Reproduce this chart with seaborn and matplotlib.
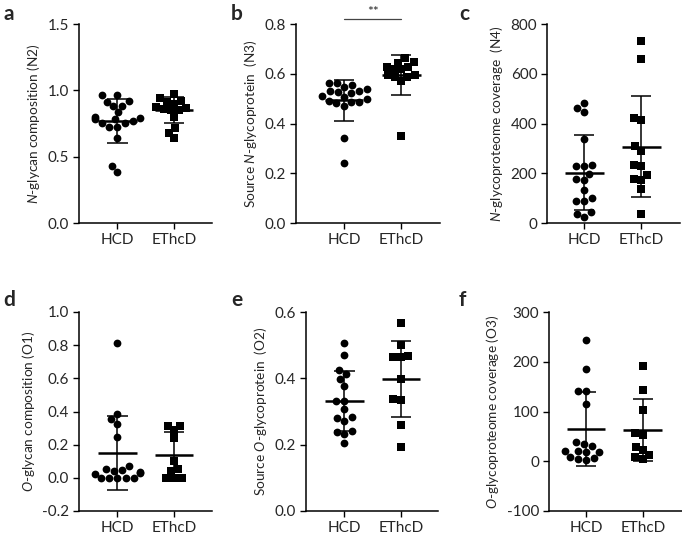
import matplotlib
matplotlib.use("Agg")
import pandas as pd
import numpy as np
import matplotlib.pyplot as plt
import seaborn as sns

# values
groups = ["HCD", "EThcD"]

a_hcd = [0.965, 0.965, 0.915, 0.92, 0.883, 0.885, 0.835, 0.798, 0.79, 0.757, 0.752,
         0.782, 0.782, 0.772, 0.727, 0.727, 0.64, 0.384, 0.426]
a_ethcd = [0.97, 0.945, 0.92, 0.915, 0.90, 0.875, 0.87, 0.86, 0.85, 0.85, 0.80, 0.715, 0.68, 0.64]
b_hcd = [0.564, 0.562, 0.555, 0.546, 0.538, 0.532, 0.532, 0.528, 0.524, 0.511, 0.508,
         0.498, 0.492, 0.488, 0.488, 0.482, 0.471, 0.341, 0.241]
b_ethcd = [0.662, 0.649, 0.645, 0.629, 0.629, 0.618, 0.618, 0.595, 0.595, 0.586, 0.586, 0.569, 0.35]
c_hcd = [484, 462, 446, 337, 234, 230, 230, 198, 177, 174, 131, 100, 90, 87, 43, 37, 24]
c_ethcd = [733, 660, 423, 415, 308, 290, 232, 231, 191, 177, 171, 136, 37]
d_hcd = [0.815, 0.385, 0.353, 0.325, 0.248, 0.07, 0.056, 0.05, 0.042, 0.036, 0.03, 0.025,
         0.0, 0.0, 0.0, 0.0, 0.0]
d_ethcd = [0.315, 0.315, 0.29, 0.24, 0.10, 0.055, 0.04, 0.0, 0.0, 0.0]
e_hcd = [0.508, 0.471, 0.426, 0.413, 0.397, 0.377, 0.333, 0.333, 0.307, 0.280, 0.283,
         0.272, 0.242, 0.232, 0.239, 0.204]
e_ethcd = [0.567, 0.501, 0.464, 0.464, 0.468, 0.397, 0.335, 0.337, 0.259, 0.192]
f_hcd = [244, 186, 142, 142, 115, 39, 34, 30, 21, 20, 19, 19, 9, 7, 4, 2]
f_ethcd = [192, 143, 103, 56, 53, 29, 22, 12, 8, 5]

# mean and SD as drawn
means = {"a": [0.767, 0.85], "b": [0.493, 0.595], "c": [203, 307],
         "d": [0.15, 0.137], "e": [0.332, 0.397], "f": [65, 63]}
sds = {"a": [0.165, 0.097], "b": [0.083, 0.079], "c": [150, 203],
       "d": [0.224, 0.137], "e": [0.091, 0.115], "f": [75, 63]}

ylabels = {"a": r"$\mathit{N}$-glycan composition (N2)",
           "b": r"Source $\mathit{N}$-glycoprotein  (N3)",
           "c": r"$\mathit{N}$-glycoproteome coverage  (N4)",
           "d": r"$\mathit{O}$-glycan composition (O1)",
           "e": r"Source $\mathit{O}$-glycoprotein  (O2)",
           "f": r"$\mathit{O}$-glycoproteome coverage (O3)"}
yticks = {"a": [0, 0.5, 1.0, 1.5], "b": [0, 0.2, 0.4, 0.6, 0.8], "c": [0, 200, 400, 600, 800],
          "d": [-0.2, 0, 0.2, 0.4, 0.6, 0.8, 1.0], "e": [0, 0.2, 0.4, 0.6],
          "f": [-100, 0, 100, 200, 300]}
yfmt = {"a": "{:.1f}", "b": "{:.1f}", "c": "{:.0f}", "d": "{:.1f}", "e": "{:.1f}", "f": "{:.0f}"}

data = {"a": (a_hcd, a_ethcd), "b": (b_hcd, b_ethcd), "c": (c_hcd, c_ethcd),
        "d": (d_hcd, d_ethcd), "e": (e_hcd, e_ethcd), "f": (f_hcd, f_ethcd)}

sns.set_theme(style="ticks")
plt.rcParams['font.family'] = ['Lato', 'DejaVu Sans']
plt.rcParams['mathtext.fontset'] = 'custom'
plt.rcParams['mathtext.rm'] = 'Lato'
plt.rcParams['mathtext.it'] = 'Lato:italic'
plt.rcParams['axes.unicode_minus'] = False

W, H = 682, 536
fig = plt.figure(figsize=(W / 100, H / 100), dpi=100)

# axes boxes in pixels: left, right, top, bottom
boxes = {"a": (79, 212, 24, 223), "b": (296, 440, 24, 223), "c": (547, 680, 24, 223),
         "d": (79, 212, 312, 511), "e": (306, 438, 312, 511), "f": (549, 682, 312, 511)}
xlims = {"a": (-0.68, 1.67), "b": (-0.84, 1.68), "c": (-0.65, 1.68),
         "d": (-0.68, 1.67), "e": (-0.68, 1.66), "f": (-0.65, 1.69)}
letter_pos = {"a": (3, 14), "b": (231, 14), "c": (459, 14),
              "d": (3, 300), "e": (231, 300), "f": (459, 300)}

for key, (hcd, ethcd) in data.items():
    l, r, t, b = boxes[key]
    ax = fig.add_axes([l / W, 1 - b / H, (r - l) / W, (b - t) / H])
    df = pd.DataFrame({"group": ["HCD"] * len(hcd) + ["EThcD"] * len(ethcd),
                       "value": list(hcd) + list(ethcd)})
    sns.swarmplot(data=df[df.group == "HCD"], x="group", y="value", order=groups,
                  color="black", marker="o", size=5.6, ax=ax)
    sns.swarmplot(data=df[df.group == "EThcD"], x="group", y="value", order=groups,
                  color="black", marker="s", size=5.2, ax=ax)
    for i in range(2):
        m, s = means[key][i], sds[key][i]
        ax.hlines(m, i - 0.34, i + 0.34, color="black", lw=1.8, zorder=5)
        ax.vlines(i, m - s, m + s, color="black", lw=1.1, zorder=5)
        ax.hlines([m - s, m + s], i - 0.18, i + 0.18, color="black", lw=1.1, zorder=5)

    ax.set_xlim(*xlims[key])
    yt = yticks[key]
    ax.set_ylim(yt[0], yt[-1])
    ax.set_yticks(yt)
    ax.set_yticklabels([yfmt[key].format(v) for v in yt])
    ax.set_xlabel("")
    ax.set_ylabel(ylabels[key], fontsize=9.8, labelpad=4)
    ax.tick_params(labelsize=11, length=4, width=1, color="black", pad=3)
    for sp in ["top", "right"]:
        ax.spines[sp].set_visible(False)
    for sp in ["left", "bottom"]:
        ax.spines[sp].set_linewidth(1.1)
        ax.spines[sp].set_color("black")
    lx, ly = letter_pos[key]
    fig.text(lx / W, 1 - ly / H, key, fontsize=15, fontweight="bold", va="center", ha="left")

    if key == "b":
        ax.plot([0, 1], [0.822, 0.822], color="#444444", lw=0.9, clip_on=False)
        ax.text(0.5, 0.826, "**", ha="center", va="bottom", fontsize=10, clip_on=False)

fig.savefig("out.png", dpi=100)
